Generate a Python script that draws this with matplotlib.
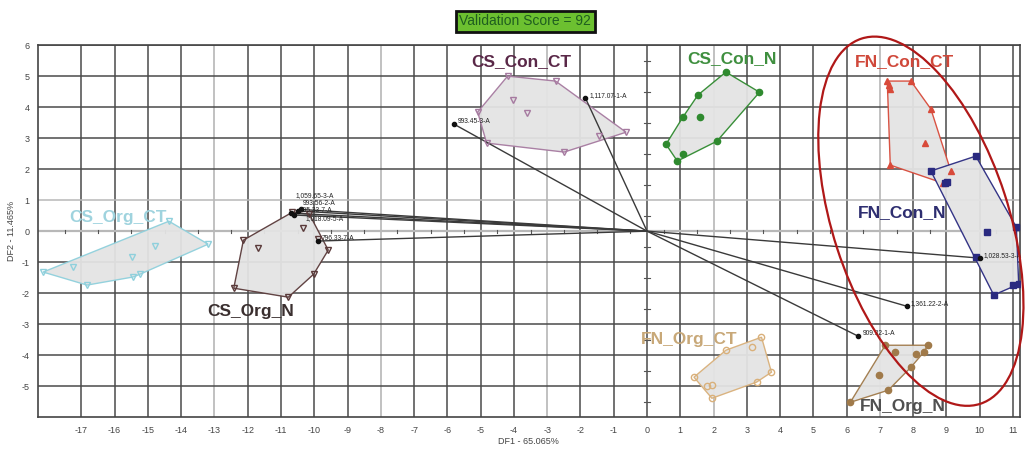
import matplotlib
matplotlib.use("Agg")
import matplotlib.pyplot as plt
from matplotlib.patches import Polygon, Ellipse
from matplotlib.transforms import IdentityTransform
import numpy as np

plt.rcParams['font.family'] = ['Liberation Sans', 'DejaVu Sans']
plt.rcParams['axes.unicode_minus'] = False

# ---------------- data ----------------
cs_org_ct_x = [-18.15, -17.25, -16.83, -15.45, -15.24, -15.49, -14.79, -14.37, -13.19]
cs_org_ct_y = [-1.32, -1.16, -1.74, -1.48, -1.39, -0.84, -0.48, 0.32, -0.42]

cs_org_n_x = [-12.13, -11.68, -12.42, -10.78, -10.02, -9.58, -9.88, -10.33, -10.66, -10.15]
cs_org_n_y = [-0.29, -0.55, -1.84, -2.13, -1.39, -0.61, -0.26, 0.10, 0.61, 0.55]

cs_con_ct_x = [-5.09, -4.19, -2.75, -0.63, -1.44, -2.49, -4.82, -4.04, -3.62]
cs_con_ct_y = [3.84, 5.00, 4.84, 3.19, 3.07, 2.55, 2.84, 4.23, 3.81]

cs_con_n_x = [2.37, 3.38, 2.10, 1.08, 0.91, 0.57, 1.08, 1.53, 1.59]
cs_con_n_y = [5.13, 4.48, 2.90, 2.48, 2.26, 2.80, 3.68, 4.39, 3.68]

fn_con_ct_x = [7.22, 7.93, 8.53, 8.35, 9.13, 8.89, 7.31, 7.31, 7.28]
fn_con_ct_y = [4.84, 4.84, 3.94, 2.84, 1.94, 1.55, 2.13, 4.58, 4.70]

fn_con_n_x = [8.53, 9.88, 11.10, 10.99, 11.17, 10.42, 9.88, 10.21, 8.95, 9.01]
fn_con_n_y = [1.94, 2.42, 0.13, -1.74, -1.71, -2.06, -0.84, -0.03, 1.55, 1.58]

fn_org_ct_x = [3.44, 2.37, 1.41, 1.95, 3.29, 3.74, 3.14, 1.80, 1.95]
fn_org_ct_y = [-3.42, -3.84, -4.71, -5.39, -4.87, -4.55, -3.74, -5.00, -4.97]

fn_org_n_x = [7.16, 8.44, 8.32, 7.93, 7.25, 6.11, 7.45, 8.08, 6.98]
fn_org_n_y = [-3.68, -3.68, -3.90, -4.39, -5.13, -5.52, -3.90, -3.97, -4.65]

group_names = ["CS_Org_CT", "CS_Org_N", "CS_Con_CT", "CS_Con_N",
               "FN_Con_CT", "FN_Con_N", "FN_Org_CT", "FN_Org_N"]
group_x = [cs_org_ct_x, cs_org_n_x, cs_con_ct_x, cs_con_n_x,
           fn_con_ct_x, fn_con_n_x, fn_org_ct_x, fn_org_n_x]
group_y = [cs_org_ct_y, cs_org_n_y, cs_con_ct_y, cs_con_n_y,
           fn_con_ct_y, fn_con_n_y, fn_org_ct_y, fn_org_n_y]
group_colors = ["#8fd0dc", "#5a3a3a", "#a67aa0", "#2f8a2f",
                "#d84a3a", "#2a2a80", "#d9b07a", "#a07a4a"]
label_colors = ["#9fd3de", "#3a2f2f", "#5a2848", "#3f8f3f",
                "#d0483a", "#2e2e70", "#c8a878", "#505050"]
group_markers = ["v", "v", "v", "o", "^", "s", "o", "o"]
group_filled = [False, False, False, True, True, True, False, True]
label_x = [-15.9, -11.9, -3.78, 2.55, 7.75, 7.66, 1.26, 7.69]
label_y = [0.45, -2.58, 5.48, 5.55, 5.48, 0.61, -3.48, -5.65]

load_x = [-10.7, -10.5, -10.6, -10.4, -9.9, -5.8, -1.85, 6.35, 7.8, 10.0]
load_y = [0.58, 0.65, 0.52, 0.70, -0.32, 3.45, 4.29, -3.39, -2.42, -0.87]
load_labels = ["1,059.65-3-A", "993.56-2-A", "995.33-7-A", "1,018.09-5-A",
               "796.33-7-A", "993.45-3-A", "1,117.07-1-A", "909.32-1-A",
               "1,361.22-2-A", "1,028.53-3-A"]
# label placement offsets (data units) for the loading labels
load_dx = [0.15, 0.15, 0.15, 0.15, 0.12, 0.12, 0.12, 0.12, 0.12, 0.12]
load_dy = [0.57, 0.25, 0.13, -0.30, 0.08, 0.08, 0.08, 0.08, 0.08, 0.08]

title_text = "Validation Score = 92"
xlabel = "DF1 - 65.065%"
ylabel = "DF2 - 11.465%"
x_ticks = list(range(-17, 12))
y_ticks = list(range(-5, 7))


def hull(xs, ys):
    pts = sorted(set(zip(xs, ys)))
    def cross(o, a, b):
        return (a[0]-o[0])*(b[1]-o[1]) - (a[1]-o[1])*(b[0]-o[0])
    lower, upper = [], []
    for p in pts:
        while len(lower) >= 2 and cross(lower[-2], lower[-1], p) <= 0:
            lower.pop()
        lower.append(p)
    for p in reversed(pts):
        while len(upper) >= 2 and cross(upper[-2], upper[-1], p) <= 0:
            upper.pop()
        upper.append(p)
    return lower[:-1] + upper[:-1]


fig = plt.figure(figsize=(10.3, 4.51), dpi=100)
ax = fig.add_axes([0.037, 0.075, 0.953, 0.825])
ax.set_xlim(-18.3, 11.2)
ax.set_ylim(-6, 6)

# grid
for xv in x_ticks:
    c = "#b0b0b0" if (xv - 2) % 5 == 0 else "#4a4a4a"
    ax.axvline(xv, color=c, lw=1.1, zorder=0)
for yv in y_ticks:
    c = "#b8b8b8" if yv in (0, 1) else "#4a4a4a"
    ax.axhline(yv, color=c, lw=1.1 if yv != 0 else 1.6, zorder=0)
# small ticks along the zero lines
for xv in np.arange(-17.5, 11, 1.0):
    ax.plot([xv, xv], [-0.05, 0.05], color="#555555", lw=0.8, zorder=0.5)
for yv in np.arange(-5.5, 6, 1.0):
    ax.plot([-0.08, 0.08], [yv, yv], color="#555555", lw=0.8, zorder=0.5)

# loading vectors
for lx, ly, lab, dx, dy in zip(load_x, load_y, load_labels, load_dx, load_dy):
    ax.plot([0, lx], [0, ly], color="#3a3a3a", lw=1.0, zorder=3)
    ax.plot(lx, ly, marker="o", ms=3, color="#111111", zorder=4)
    ax.text(lx + dx, ly + dy, lab, fontsize=4.8, color="#222222", zorder=5,
            va="center")

# groups
for name, xs, ys, col, lcol, mk, filled, tx, ty in zip(
        group_names, group_x, group_y, group_colors, label_colors,
        group_markers, group_filled, label_x, label_y):
    h = hull(xs, ys)
    ax.add_patch(Polygon(h, closed=True, facecolor="#e4e4e4", edgecolor=col,
                         lw=1.0, alpha=0.95, zorder=2))
    ax.plot(xs, ys, linestyle="none", marker=mk, ms=4.5,
            markerfacecolor=col if filled else "none",
            markeredgecolor=col, markeredgewidth=1.0, zorder=3.5)
    ax.text(tx, ty, name, fontsize=12.5, fontweight="bold", color=lcol,
            ha="center", va="center", zorder=6)

ax.set_xticks(x_ticks)
ax.set_yticks(y_ticks)
ax.tick_params(axis="both", labelsize=6.5, colors="#444444", length=0, pad=6)
for s in ax.spines.values():
    s.set_color("#444444")
    s.set_linewidth(1.2)
ax.set_xlabel(xlabel, fontsize=6.5, color="#444444", labelpad=2)
ax.set_ylabel(ylabel, fontsize=6.5, color="#444444", labelpad=4)

# title box
fig.text(0.51, 0.953, title_text, fontsize=10, color="#1f5e1f",
         ha="center", va="center",
         bbox=dict(boxstyle="square,pad=0.25", facecolor="#6cc030",
                   edgecolor="#111111", linewidth=2))

# red ellipse (annotation)
fig.canvas.draw()
cx, cy = ax.transData.transform((8.23, 0.32))
ell = Ellipse((cx, cy), 176, 384, angle=18, fill=False, edgecolor="#b01818",
              lw=1.6, transform=IdentityTransform(), zorder=10)
fig.add_artist(ell)

fig.savefig("out.png", dpi=100)
